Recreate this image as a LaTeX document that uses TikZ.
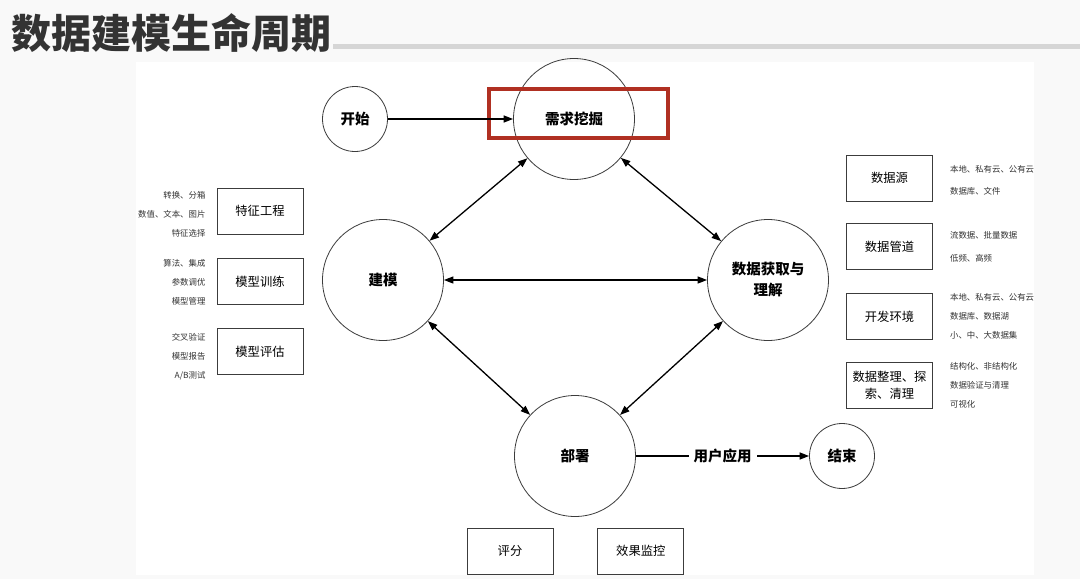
\documentclass[tikz,border=0pt]{standalone}
\usepackage{fontspec}
\setmainfont{Noto Sans CJK SC}
\usetikzlibrary{arrows.meta, positioning}
\definecolor{titlegray}{RGB}{51,51,51}
\definecolor{rulegray}{RGB}{214,214,214}
\definecolor{pagegray}{RGB}{249,249,249}
\definecolor{hired}{RGB}{176,48,34}
\definecolor{inkgray}{RGB}{60,60,60}

\begin{document}
\begin{tikzpicture}[x=1pt, y=-1pt,
        stage/.style={circle, draw=inkgray, line width=0.8pt, minimum size=121pt, inner sep=0pt, align=center, font=\fontsize{14.5}{21}\selectfont\bfseries},
        endpoint/.style={stage, minimum size=65pt},
        task/.style={rectangle, draw=inkgray, line width=0.8pt, minimum width=86pt, minimum height=46pt, inner sep=2pt, align=center, font=\fontsize{12.3}{17}\selectfont},
        notes/.style={inner sep=0pt, font=\fontsize{8.4}{19}\selectfont, text=titlegray},
        link/.style={{Triangle[length=9.5pt,width=7pt]}-{Triangle[length=9.5pt,width=7pt]}, line width=1.3pt},
        arrow/.style={-{Triangle[length=9.5pt,width=7pt]}, line width=1.6pt},
        hilite/.style={rectangle, draw=hired, line width=4pt, minimum width=179pt, minimum height=49pt}
    ]
    \useasboundingbox (0,0) rectangle (1080,579);

    % Page
    \fill[pagegray] (0,0) rectangle (1080,579);
    \fill[white] (136,62) rectangle (1034,575);
    \node[anchor=west, inner sep=0pt, font=\fontsize{40}{42}\selectfont\bfseries, text=titlegray] (title) at (11,33) {数据建模生命周期};
    \coordinate (ruleend) at (1080,46.5);
    \draw[rulegray, line width=4.5pt] ([xshift=2pt]title.east |- ruleend) -- (ruleend);

    % Stages
    \node[endpoint] (start) at (355,119) {开始};
    \node[stage] (mining) at (574,119) {需求挖掘};
    \node[stage] (modeling) at (383,280) {建模};
    \node[stage] (acquire) at (768,280) {数据获取与\\理解};
    \node[stage] (deploy) at (575,456) {部署};
    \node[endpoint] (finish) at (842,456) {结束};
    \node[hilite] (focus) at (578.5,113.5) {};

    % Modeling tasks
    \node[task] (feature) at (260,211) {特征工程};
    \node[task, below=24pt of feature] (training) {模型训练};
    \node[task, below=23pt of training] (evaluate) {模型评估};
    \node[notes, align=right, left=11pt of feature, yshift=-3pt] (featurenote) {转换、分箱\\数值、文本、图片\\特征选择};
    \node[notes, align=right, left=11pt of training] (trainingnote) {算法、集成\\参数调优\\模型管理};
    \node[notes, align=right, left=11pt of evaluate, yshift=-5pt] (evaluatenote) {交叉验证\\模型报告\\A/B测试};

    % Data tasks
    \node[task] (source) at (889.5,178) {数据源};
    \node[task, below=22pt of source] (pipeline) {数据管道};
    \node[task, below=23pt of pipeline] (devenv) {开发环境};
    \node[task, below=22pt of devenv] (wrangle) {数据整理、探\\索、清理};
    \node[notes, align=left, right=17pt of source, yshift=-2pt, font=\fontsize{8.4}{22}\selectfont] (sourcenote) {本地、私有云、公有云\\数据库、文件};
    \node[notes, align=left, right=17pt of pipeline, font=\fontsize{8.4}{23}\selectfont] (pipelinenote) {流数据、批量数据\\低频、高频};
    \node[notes, align=left, right=17pt of devenv] (devenvnote) {本地、私有云、公有云\\数据库、数据湖\\小、中、大数据集};
    \node[notes, align=left, right=17pt of wrangle] (wranglenote) {结构化、非结构化\\数据验证与清理\\可视化};

    % Deploy tasks
    \node[task] (score) at (510,551) {评分};
    \node[task, right=44pt of score] (monitor) {效果监控};

    % Arrows
    \draw[arrow] (start) -- (mining);
    \draw[link] (mining) -- (modeling);
    \draw[link] (mining) -- (acquire);
    \draw[link] (modeling) -- (acquire);
    \draw[link] (modeling) -- (deploy);
    \draw[link] (acquire) -- (deploy);
    \draw[arrow] (deploy) -- node[fill=white, inner sep=5pt, font=\fontsize{14.5}{17}\selectfont\bfseries] (usage) {用户应用} (finish);

    \end{tikzpicture}
\end{document}
